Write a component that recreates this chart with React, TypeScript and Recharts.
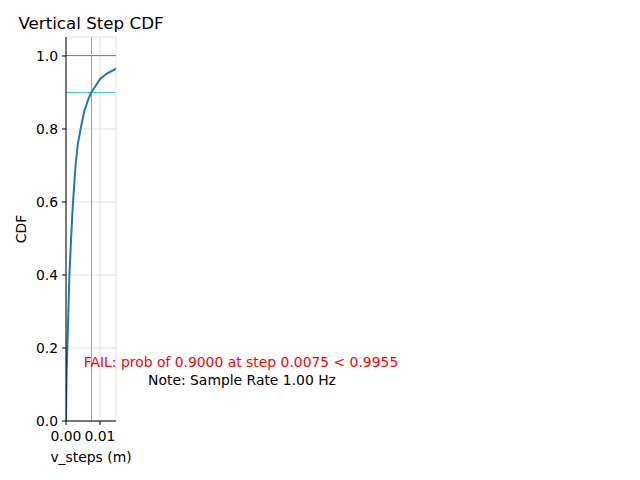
import React from 'react'
import { LineChart, Line, XAxis, YAxis, CartesianGrid, ReferenceLine } from 'recharts'

const steps = [0, 0.0001, 0.0002, 0.0004, 0.0007, 0.001, 0.0015, 0.002, 0.0028, 0.0035, 0.0043, 0.0054, 0.0065, 0.0074, 0.0085, 0.01, 0.012, 0.0147]
const cdf = [0, 0.08, 0.14, 0.2, 0.3, 0.4, 0.5, 0.59, 0.7, 0.76, 0.8, 0.85, 0.88, 0.9, 0.915, 0.937, 0.952, 0.965]

const xTicks = [0, 0.01]
const yTicks = [0, 0.2, 0.4, 0.6, 0.8, 1.0]

const threshStep = 0.0075
const threshProb = 0.9
const maxProb = 1.0

const data = steps.map((s, i) => ({ step: s, cdf: cdf[i] }))

const font = 'DejaVu Sans, sans-serif'
const fs = 13.9

export default function App() {
  return (
    <div style={{ position: 'absolute', left: 0, top: 0, width: 640, height: 480, background: '#fff', fontFamily: font }}>
      <LineChart width={640} height={480} data={data} margin={{ top: 37, right: 524, bottom: 29, left: 16 }}>
        <CartesianGrid stroke="#dcdcdc" strokeWidth={0.8} />
        <XAxis
          dataKey="step"
          type="number"
          domain={[0, 0.0147]}
          ticks={xTicks}
          tickFormatter={(v: number) => v.toFixed(2)}
          allowDataOverflow
          height={30}
          tickSize={4}
          tickMargin={6}
          stroke="#000"
          tick={{ fill: '#000', fontSize: fs, fontFamily: font }}
        />
        <XAxis xAxisId="top" orientation="top" type="number" domain={[0, 1]} tick={false} tickLine={false} height={0} stroke="#000" />
        <YAxis
          type="number"
          domain={[0, 1.052]}
          ticks={yTicks}
          tickFormatter={(v: number) => v.toFixed(1)}
          allowDataOverflow
          width={50}
          tickSize={4}
          tickMargin={4}
          stroke="#000"
          tick={{ fill: '#000', fontSize: fs, fontFamily: font }}
        />
        <YAxis yAxisId="right" orientation="right" type="number" domain={[0, 1]} tick={false} tickLine={false} width={0} stroke="#000" />
        <ReferenceLine y={maxProb} stroke="#e05a5a" strokeWidth={1} shapeRendering="crispEdges" />
        <ReferenceLine y={threshProb} stroke="#40cccc" strokeWidth={1} shapeRendering="crispEdges" />
        <ReferenceLine x={threshStep} stroke="#40cccc" strokeWidth={1} shapeRendering="crispEdges" />
        <Line dataKey="cdf" stroke="#1f77b4" strokeWidth={2} dot={false} type="linear" isAnimationActive={false} />
      </LineChart>
      <svg width={640} height={480} style={{ position: 'absolute', left: 0, top: 0, pointerEvents: 'none' }}>
        <text x={91} y={29} textAnchor="middle" fontSize={16.7} fontFamily={font} fill="#000">Vertical Step CDF</text>
        <text x={91} y={462} textAnchor="middle" fontSize={fs} fontFamily={font} fill="#000">v_steps (m)</text>
        <text x={26} y={229} textAnchor="middle" fontSize={fs} fontFamily={font} fill="#000" transform="rotate(-90 26 229)">CDF</text>
        <text x={241} y={367} textAnchor="middle" fontSize={fs} fontFamily={font} fill="red">FAIL: prob of 0.9000 at step 0.0075 &lt; 0.9955</text>
        <text x={242} y={385} textAnchor="middle" fontSize={fs} fontFamily={font} fill="#000">Note: Sample Rate 1.00 Hz</text>
      </svg>
    </div>
  )
}
